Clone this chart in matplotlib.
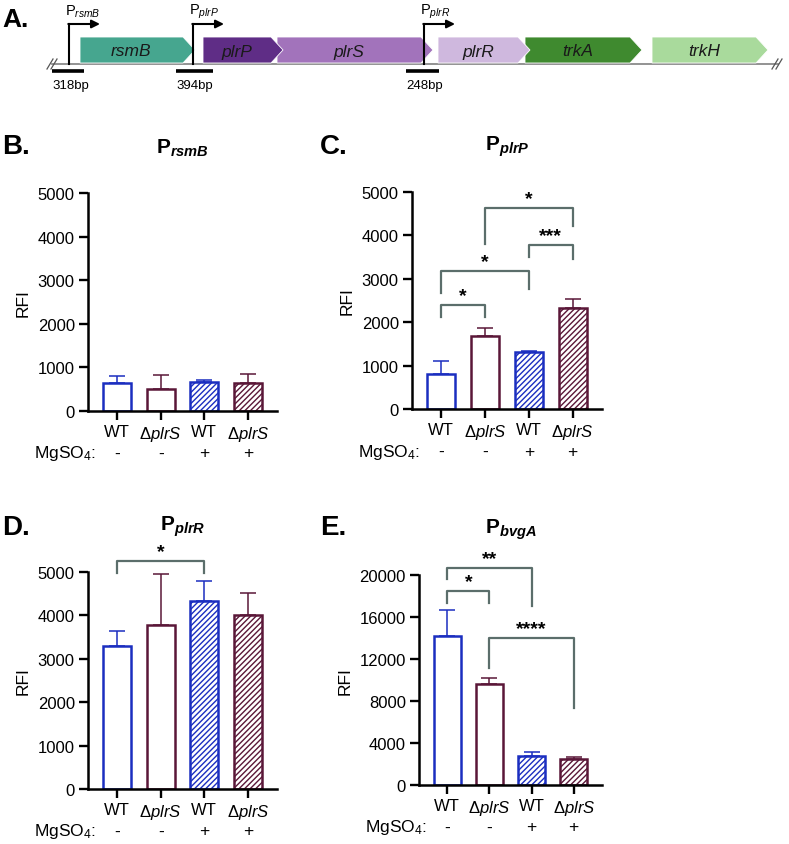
import numpy as np
import matplotlib
matplotlib.use("Agg")
import matplotlib.pyplot as plt
from matplotlib.patches import Polygon

plt.rcParams["font.family"] = ["Liberation Sans", "DejaVu Sans"]
plt.rcParams["mathtext.fontset"] = "custom"
plt.rcParams["mathtext.rm"] = "Liberation Sans"
plt.rcParams["mathtext.it"] = "Liberation Sans:italic"
plt.rcParams["mathtext.bf"] = "Liberation Sans:bold"
plt.rcParams["mathtext.bfit"] = "Liberation Sans:italic:bold"
plt.rcParams["hatch.linewidth"] = 1.0

# ============================================================
# DATA
# ============================================================

# panel A gene map (pixel frame of the top strip)
gene_names = ["rsmB", "plrP", "plrS", "plrR", "trkA", "trkH"]
gene_start = [80, 203, 277, 438, 525, 652]
gene_end = [195, 283, 433, 530, 642, 768]
gene_colors = ["#46a68f", "#5f2d86", "#a273bb", "#cfb8de", "#3f8a2f", "#a9da9c"]

promoter_names = ["rsmB", "plrP", "plrR"]
promoter_x = [69, 193, 424]

fragment_labels = ["318bp", "394bp", "248bp"]
fragment_start = [52, 176, 406]
fragment_end = [84, 213, 439]

# bar panels
strains = ["WT", r"$\Delta\mathit{plrS}$", "WT", r"$\Delta\mathit{plrS}$"]
mgso4 = ["-", "-", "+", "+"]

rsmB_mean = [640, 515, 670, 640]
rsmB_err = [170, 305, 40, 210]

plrP_mean = [810, 1680, 1310, 2330]
plrP_err = [300, 175, 30, 200]

plrR_mean = [3290, 3790, 4330, 4000]
plrR_err = [345, 1165, 455, 525]

bvgA_mean = [14150, 9650, 2800, 2510]
bvgA_err = [2520, 510, 380, 190]

# (left bar, right bar, bracket level, left leg end, right leg end, label)
plrP_sig = [(0, 1, 2390, 2120, 2120, "*"),
            (0, 2, 3180, 2670, 2770, "*"),
            (2, 3, 3785, 3510, 3450, "***"),
            (1, 3, 4640, 3810, 4215, "*")]
plrR_sig = [(0, 2, 5250, 4980, 4980, "*")]
bvgA_sig = [(0, 1, 18450, 17370, 17370, "*"),
            (0, 2, 20700, 19650, 17050, "**"),
            (1, 3, 13970, 11180, 7370, "****")]

BLUE = "#1b2ec0"
MAROON = "#5a1738"
BRACKET = "#5b6e6b"
bar_colors = [BLUE, MAROON, BLUE, MAROON]
bar_hatch = [None, None, "//////", "//////"]

W, H = 789, 845


def fx(x):
    return x / W


def fy(y):
    return 1 - y / H


# ============================================================
# PANEL A
# ============================================================

fig = plt.figure(figsize=(W / 100, H / 100), dpi=100)

axA = fig.add_axes([0, fy(110), 1, 110 / H])
axA.set_xlim(0, W)
axA.set_ylim(110, 0)
axA.axis("off")

base_y, top_y, bot_y = 65, 38, 64
axA.plot([52, 778], [base_y, base_y], color="#8a8a8a", lw=1.3, zorder=1)
for x0 in (47, 51, 772, 776):
    axA.plot([x0, x0 + 6], [base_y + 5, base_y - 5], color="#555555", lw=0.9)

# earlier genes sit on top of the next one's start
for k, (name, x0, x1, col) in enumerate(zip(gene_names, gene_start, gene_end, gene_colors)):
    tip = x1 - 12
    pts = [(x0, top_y), (tip, top_y), (x1, (top_y + bot_y) / 2), (tip, bot_y), (x0, bot_y)]
    axA.add_patch(Polygon(pts, closed=True, facecolor=col, edgecolor="white", lw=0.6,
                          zorder=10 - k))
    axA.text((x0 + tip) / 2, (top_y + bot_y) / 2 + 1, name, fontsize=12.5, style="italic",
             ha="center", va="center", color="#1a1a1a", zorder=20)

for name, x in zip(promoter_names, promoter_x):
    axA.plot([x, x], [base_y, 25], color="black", lw=1.5, zorder=21)
    axA.annotate("", xy=(x + 31, 25), xytext=(x - 0.7, 25),
                 arrowprops=dict(arrowstyle="-|>", lw=1.5, color="black",
                                 mutation_scale=12, shrinkA=0, shrinkB=0), zorder=21)
    axA.text(x - 4, 12, r"P$_{\mathit{%s}}$" % name, fontsize=10.5, ha="left", va="center")

for lab, x0, x1 in zip(fragment_labels, fragment_start, fragment_end):
    axA.plot([x0, x1], [72, 72], color="black", lw=2.6, solid_capstyle="butt")
    axA.text(x0, 86, lab, fontsize=9.5, ha="left", va="center")

fig.text(fx(2), fy(20), "A.", fontsize=19, fontweight="bold", ha="left", va="center")


# ============================================================
# BAR PANELS
# ============================================================

def bar_panel(box, means, errs, sigs, ymax, yticks, title):
    left, right, top, bottom = box
    ax = fig.add_axes([fx(left), fy(bottom), fx(right) - fx(left), (bottom - top) / H])
    x = np.arange(4)
    for i in range(4):
        ax.bar(x[i], means[i], width=0.64, facecolor="white", edgecolor=bar_colors[i],
               hatch=bar_hatch[i], lw=1.8, zorder=2)
        ax.errorbar(x[i], means[i], yerr=[[0], [errs[i]]], color=bar_colors[i],
                    lw=1.1, capsize=6, capthick=1.1, zorder=1, clip_on=False)
    ax.set_xlim(-0.67, 3.67)
    ax.set_ylim(0, ymax)
    ax.set_yticks(yticks)
    ax.set_xticks(x)
    ax.set_xticklabels(strains)
    ax.tick_params(axis="both", labelsize=12, length=6.5, width=1.7, pad=3)
    for s in ("top", "right"):
        ax.spines[s].set_visible(False)
    for s in ("left", "bottom"):
        ax.spines[s].set_linewidth(1.8)
    ax.set_ylabel("RFI", fontsize=12.5, labelpad=5)

    for i, sym in enumerate(mgso4):
        ax.annotate(sym, xy=(x[i], 0), xycoords=("data", "axes fraction"),
                    xytext=(0, -42), textcoords="offset pixels",
                    ha="center", va="center", fontsize=12.5)
    ax.annotate(r"MgSO$_4$:", xy=(0, 0), xycoords="axes fraction",
                xytext=(8, -42), textcoords="offset pixels",
                ha="right", va="center", fontsize=12.5)

    for i, j, yb, yl, yr, lab in sigs:
        ax.plot([i, i, j, j], [yl, yb, yb, yr], color=BRACKET, lw=1.6,
                clip_on=False, zorder=3)
        ax.annotate(lab, xy=((i + j) / 2, yb), xytext=(0, 1), textcoords="offset pixels",
                    ha="center", va="bottom", fontsize=14, fontweight="bold",
                    annotation_clip=False)

    ax.annotate(r"$\mathbf{P}_{\mathbfit{%s}}$" % title, xy=(0.5, 1), xycoords="axes fraction",
                xytext=(0, 46), textcoords="offset pixels", ha="center", va="center",
                fontsize=15)
    return ax


axB = bar_panel((88, 277, 194, 412), rsmB_mean, rsmB_err, [], 5000,
                [0, 1000, 2000, 3000, 4000, 5000], "rsmB")
axC = bar_panel((412, 602, 193, 410), plrP_mean, plrP_err, plrP_sig, 5000,
                [0, 1000, 2000, 3000, 4000, 5000], "plrP")
axD = bar_panel((88, 277, 573, 790), plrR_mean, plrR_err, plrR_sig, 5000,
                [0, 1000, 2000, 3000, 4000, 5000], "plrR")
axE = bar_panel((419, 602, 576, 786), bvgA_mean, bvgA_err, bvgA_sig, 20000,
                [0, 4000, 8000, 12000, 16000, 20000], "bvgA")

for lab, x, y in [("B.", 2, 147), ("C.", 320, 147), ("D.", 2, 528), ("E.", 320, 528)]:
    fig.text(fx(x), fy(y), lab, fontsize=20, fontweight="bold", ha="left", va="center")

fig.savefig("out.png", dpi=100)
